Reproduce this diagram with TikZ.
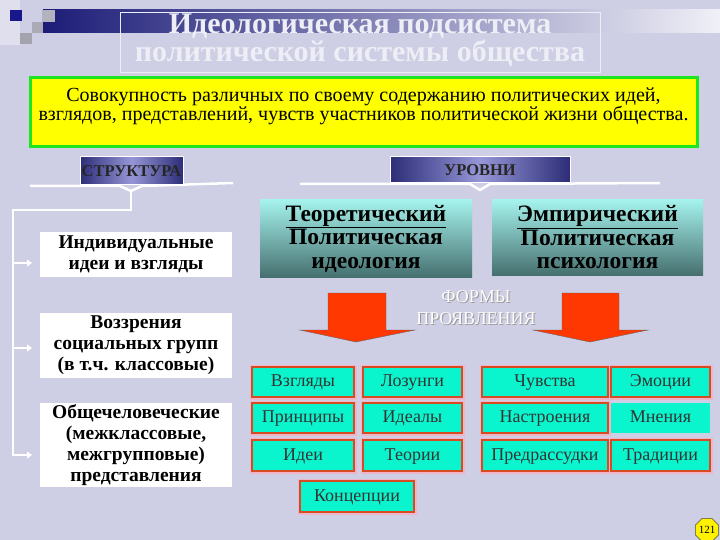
\documentclass[tikz,border=0pt]{standalone}
\usepackage{fontspec}
\setmainfont{Liberation Serif}
\usetikzlibrary{shapes.geometric,arrows.meta}
\definecolor{bgc}{RGB}{206,206,228}
\definecolor{navy}{RGB}{28,28,120}
\definecolor{barend}{RGB}{240,240,248}
\definecolor{yel}{RGB}{255,255,0}
\definecolor{grn}{RGB}{30,230,30}
\definecolor{bandark}{RGB}{45,45,120}
\definecolor{banlight}{RGB}{150,150,215}
\definecolor{tealtop}{RGB}{165,242,236}
\definecolor{tealbot}{RGB}{70,112,112}
\definecolor{aqua}{RGB}{10,245,205}
\definecolor{orng}{RGB}{215,75,35}
\definecolor{halo}{RGB}{240,180,200}
\definecolor{redarr}{RGB}{255,55,0}
\definecolor{ttl}{RGB}{238,238,246}
\begin{document}
\begin{tikzpicture}[x=1pt,y=-1pt,
  whitebox/.style={fill=white,draw=none,align=center,inner sep=0pt,
    font=\fontsize{19.5}{21}\selectfont\bfseries},
  tealbox/.style={top color=tealtop,bottom color=tealbot,draw=none,align=center,
    inner sep=0pt,font=\fontsize{23.5}{23.5}\selectfont\bfseries},
  banner/.style={left color=bandark,right color=bandark,middle color=banlight,
    draw=white,line width=1pt,inner sep=0pt,font=\fontsize{16.5}{18}\selectfont\bfseries,
    text=black!85},
  cbox/.style={fill=aqua,draw=orng,line width=2pt,inner sep=0pt,
    preaction={draw=halo,line width=5pt},text height=12pt,text depth=3pt,
    font=\fontsize{18}{20}\selectfont,text=black!80},
  cboxnb/.style={fill=aqua,draw=none,inner sep=0pt,text height=12pt,text depth=3pt,
    font=\fontsize{18}{20}\selectfont,text=black!80},
  treeline/.style={white,line width=2pt},
  treearrow/.style={white,line width=2pt,-{Triangle[length=5pt,width=7pt]}},
  bigarrow/.style={fill=redarr,draw=black!60,line width=0.4pt},
  brace/.style={white,line width=2.5pt,line join=round}
]
\useasboundingbox (0,0) rectangle (720,540);
\fill[bgc] (0,0) rectangle (720,540);
% decoration
\fill[white!35!bgc] (0,0) rectangle (20,45);
\shade[left color=navy,right color=barend] (43,10) rectangle (720,33);
\fill[navy!85!blue] (10,10) rectangle (22,21);
\fill[gray!35!bgc] (42,10) rectangle (55,22);
\fill[gray!45!bgc] (32,22) rectangle (43,33);
\fill[gray!55!bgc] (20,33) rectangle (32,44);
% title
\node[draw=ttl,line width=0.6pt,minimum width=480pt,minimum height=60pt,inner sep=0pt] (title) at (360,42) {};
\node[align=center,text=ttl,font=\fontsize{30}{25}\selectfont\bfseries] (titletext) at (360,40)
  {Идеологическая подсистема\\политической системы общества};
% yellow definition
\node[fill=yel,draw=grn,line width=3pt,minimum width=667pt,minimum height=69pt,inner sep=0pt] (def) at (363.5,112.5) {};
\node[align=center,font=\fontsize{20}{18}\selectfont,text=black,anchor=north] (deftext) at (363.5,84)
  {Совокупность различных по своему содержанию политических идей,\\взглядов, представлений, чувств участников политической жизни общества.};
% banners
\draw[brace] (30,186) -- (120,186) -- (131,191) -- (142,186) -- (233,183);
\draw[brace] (300,184) -- (470,184) -- (480,190) -- (490,184) -- (660,183);
\node[banner,minimum width=103pt,minimum height=28pt] (str) at (131.5,171) {СТРУКТУРА};
\node[banner,minimum width=180pt,minimum height=26pt] (urv) at (480,170) {УРОВНИ};
% structure boxes
\node[whitebox,minimum width=192pt,minimum height=45pt] (ind) at (136,254.5)
  {Индивидуальные\\идеи и взгляды};
\node[whitebox,minimum width=192pt,minimum height=65pt] (vozz) at (136,345.5)
  {Воззрения\\социальных групп\\(в т.ч. классовые)};
\node[whitebox,minimum width=192pt,minimum height=84pt] (obsh) at (136,445)
  {Общечеловеческие\\(межклассовые,\\межгрупповые)\\представления};
% tree
\coordinate (tA) at (131,191);
\coordinate (tB) at (131,210);
\coordinate (tC) at (13,210);
\coordinate (tD) at (13,456);
\coordinate (a1s) at (14,263); \coordinate (a1e) at (32,263);
\coordinate (a2s) at (14,348); \coordinate (a2e) at (32,348);
\coordinate (a3s) at (14,455); \coordinate (a3e) at (32,455);
\draw[treeline] (tA) -- (tB) -- (tC) -- (tD);
\draw[treearrow] (a1s) -- (a1e);
\draw[treearrow] (a2s) -- (a2e);
\draw[treearrow] (a3s) -- (a3e);
% levels
\node[tealbox,minimum width=212pt,minimum height=77pt] (teor) at (366,238.5)
  {\underline{Теоретический}\\Политическая\\идеология};
\node[tealbox,minimum width=211pt,minimum height=75pt] (emp) at (597.5,237.5)
  {\underline{Эмпирический}\\Политическая\\психология};
% big arrows
\draw[bigarrow] (328,293) -- (386,293) -- (386,330) -- (415,330) -- (356,342) -- (300,330) -- (328,330) -- cycle;
\draw[bigarrow] (562,293) -- (619,293) -- (619,330) -- (648,330) -- (590,342) -- (533,330) -- (562,330) -- cycle;
\node[align=center,font=\fontsize{18}{22}\selectfont,text=gray!80] at (477,309)
  {ФОРМЫ\\ПРОЯВЛЕНИЯ};
\node[align=center,font=\fontsize{18}{22}\selectfont,text=white!96!bgc] (forms) at (476,308)
  {ФОРМЫ\\ПРОЯВЛЕНИЯ};
% forms
\node[cbox,minimum width=102pt,minimum height=30pt] (f11) at (303,382) {Взгляды};
\node[cbox,minimum width=99pt,minimum height=30pt] (f12) at (412.5,382) {Лозунги};
\node[cbox,minimum width=126pt,minimum height=30pt] (f13) at (545,382) {Чувства};
\node[cbox,minimum width=99pt,minimum height=30pt] (f14) at (660.5,382) {Эмоции};
\node[cbox,minimum width=102pt,minimum height=30pt] (f21) at (303,418) {Принципы};
\node[cbox,minimum width=99pt,minimum height=30pt] (f22) at (412.5,418) {Идеалы};
\node[cbox,minimum width=126pt,minimum height=30pt] (f23) at (545,418) {Настроения};
\node[cboxnb,minimum width=99pt,minimum height=30pt] (f24) at (660.5,418) {Мнения};
\node[cbox,minimum width=102pt,minimum height=31pt] (f31) at (303,455.5) {Идеи};
\node[cbox,minimum width=99pt,minimum height=31pt] (f32) at (412.5,455.5) {Теории};
\node[cbox,minimum width=126pt,minimum height=31pt] (f33) at (545,455.5) {Предрассудки};
\node[cbox,minimum width=99pt,minimum height=31pt] (f34) at (660.5,455.5) {Традиции};
\node[cbox,minimum width=114pt,minimum height=31pt] (f41) at (357,496.5) {Концепции};
% page number
\node[regular polygon,regular polygon sides=8,fill=yellow,draw=black!70,line width=0.6pt,
  minimum size=22pt,inner sep=0pt,font=\fontsize{11}{12}\selectfont] (pg) at (707,530) {121};
\end{tikzpicture}
\end{document}
